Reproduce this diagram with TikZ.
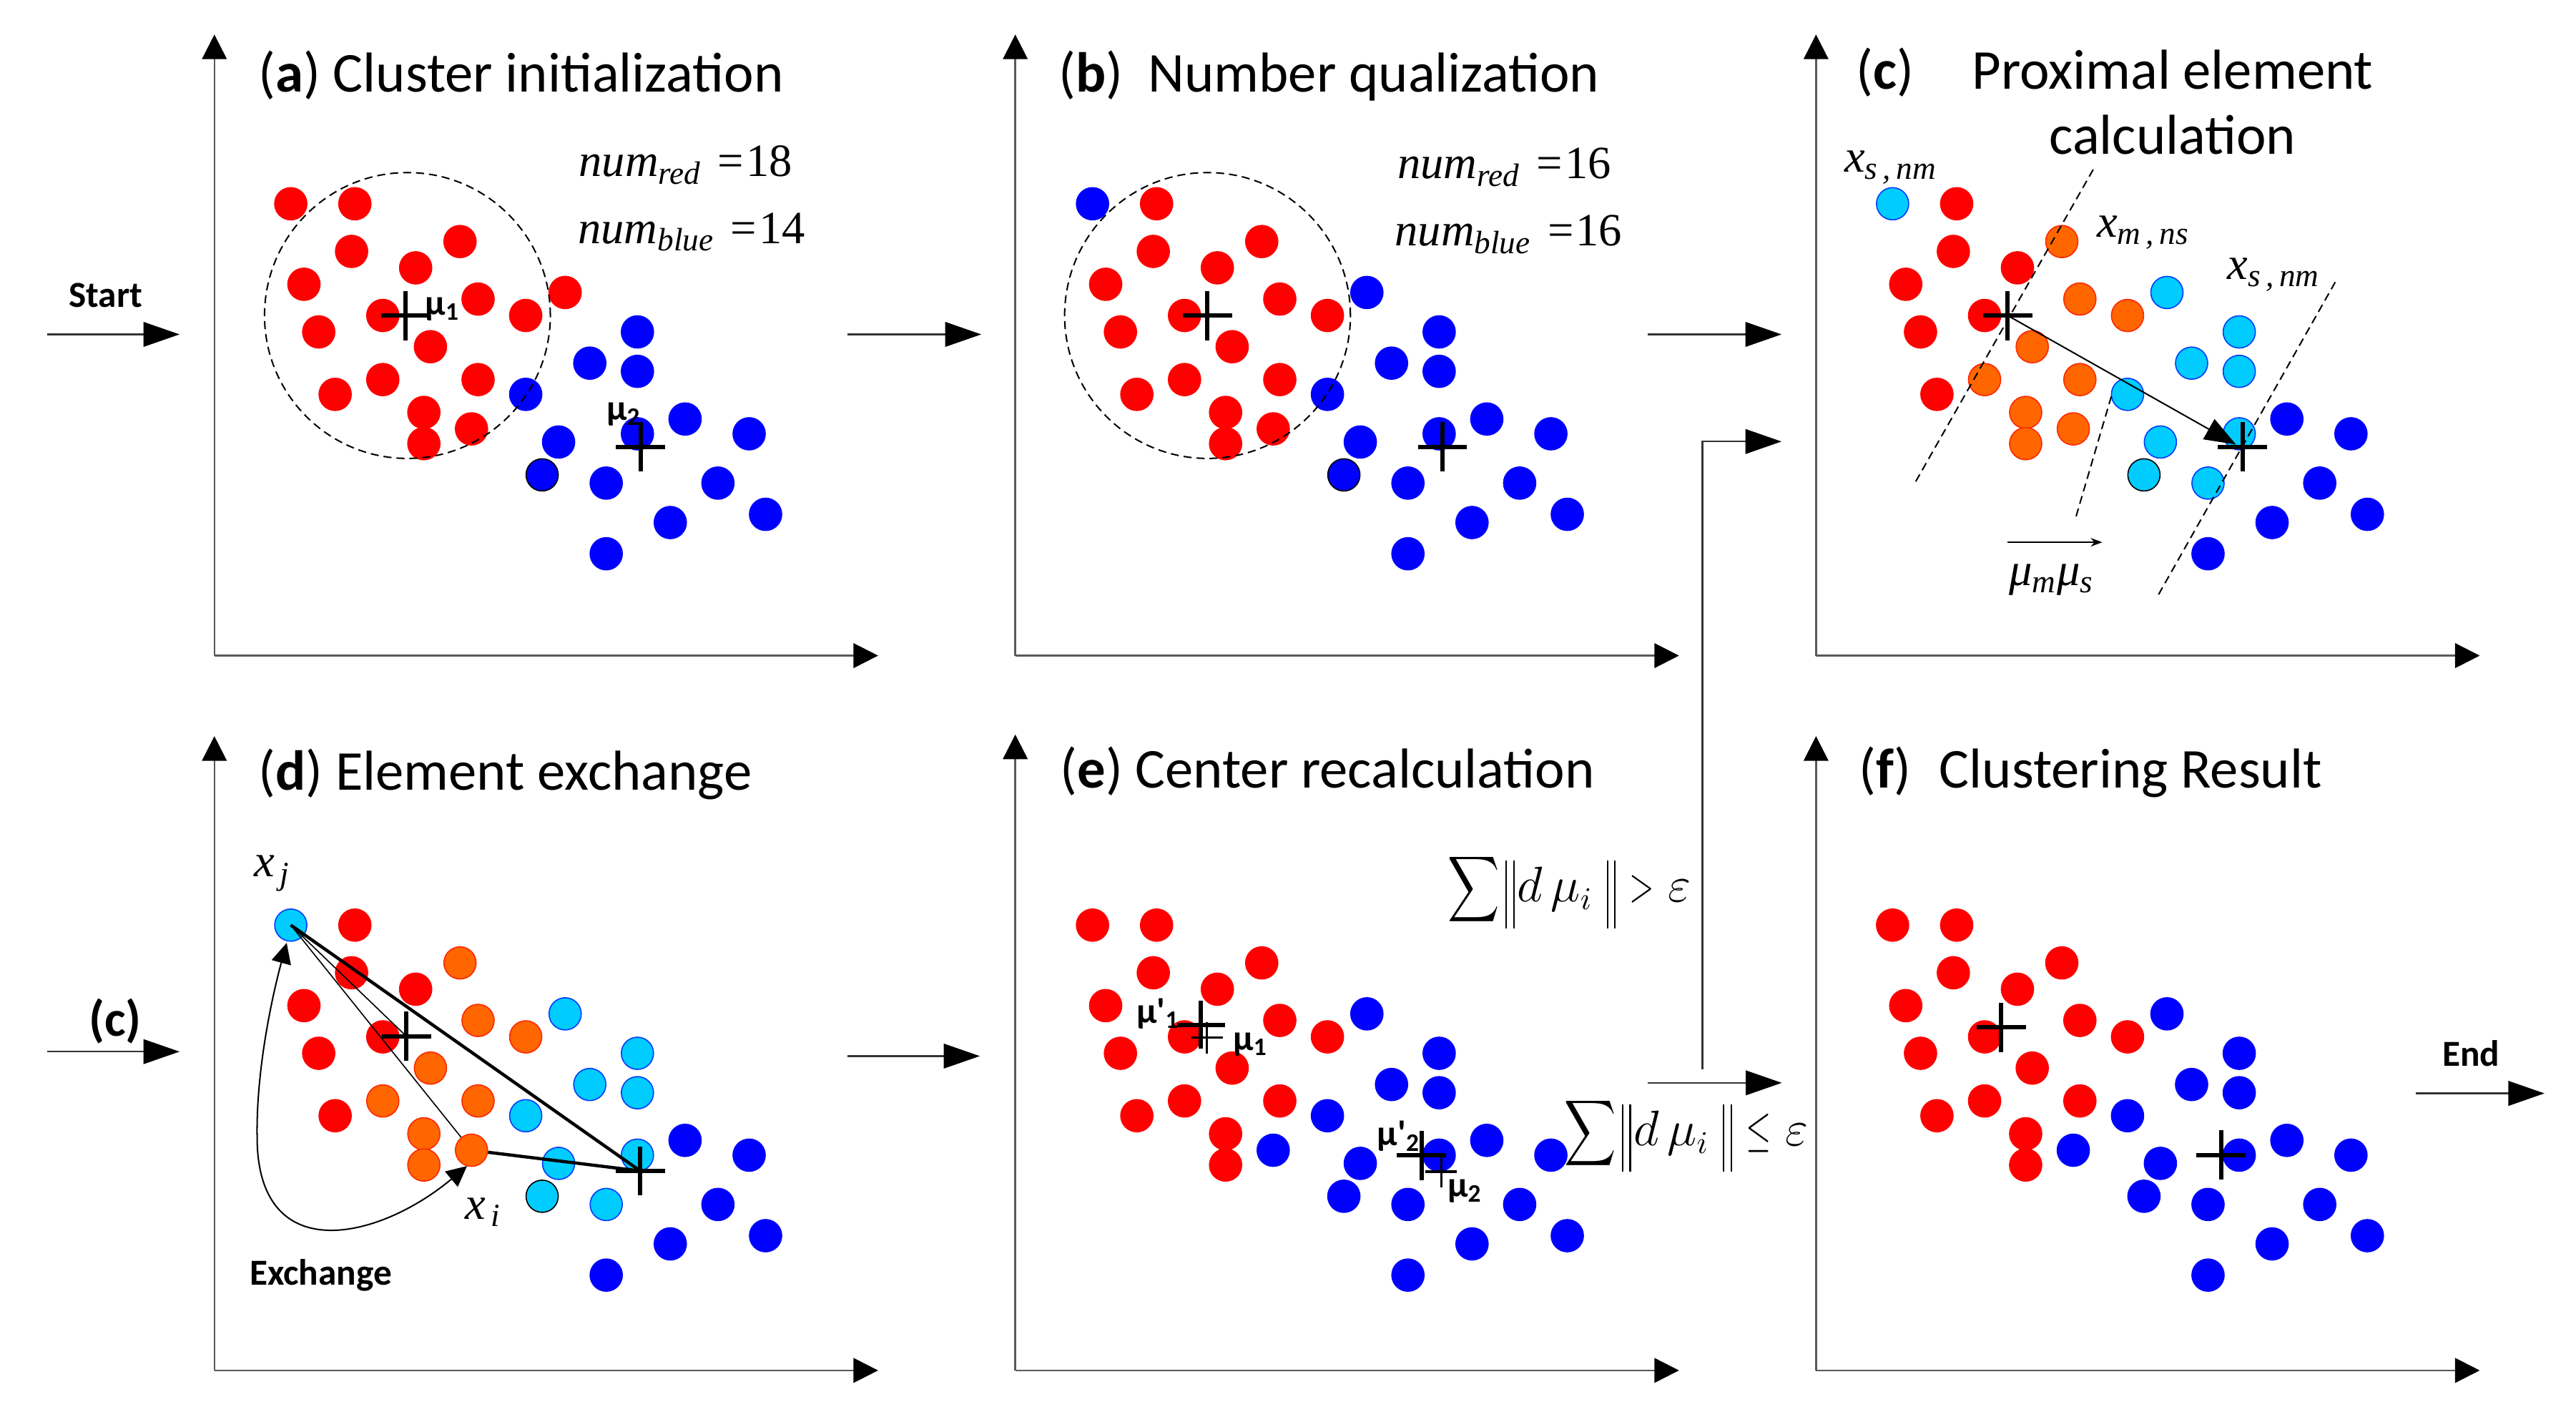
\documentclass[tikz,border=0pt]{standalone}
\usepackage{amsmath}
\usepackage{fontspec}
\setmainfont{Carlito}
\newfontfamily\tms{Liberation Serif}
\usetikzlibrary{arrows.meta,calc}
\definecolor{Frd}{RGB}{255,0,0}\definecolor{Ord}{RGB}{255,0,0}
\definecolor{Fbd}{RGB}{0,0,255}\definecolor{Obd}{RGB}{0,0,255}
\definecolor{Fbk}{RGB}{0,0,255}\definecolor{Obk}{RGB}{0,0,0}
\definecolor{For}{RGB}{255,102,0}\definecolor{Oor}{RGB}{255,40,0}
\definecolor{Fcy}{RGB}{0,204,255}\definecolor{Ocy}{RGB}{0,60,255}
\definecolor{Fck}{RGB}{0,204,255}\definecolor{Ock}{RGB}{0,0,0}
\tikzset{
 dot/.style={circle, inner sep=0pt, minimum size=0.392cm, line width=0.4pt},
 axis/.style={draw=black!65, line width=0.6pt, -{Triangle[length=0.3cm,width=0.3cm,color=black]}},
 flow/.style={draw=black!80, line width=0.6pt, -{Triangle[length=0.44cm,width=0.3cm,color=black]}},
 crs/.style={line width=1.5pt},
 crsold/.style={line width=0.8pt},
 ttl/.style={anchor=base west, inner sep=0pt, font=\fontsize{19.5}{23}\selectfont},
 lbl/.style={anchor=base west, inner sep=0pt, font=\fontsize{12.7}{15}\selectfont\bfseries},
 mul/.style={anchor=base west, inner sep=0pt, font=\fontsize{12.5}{15}\selectfont\bfseries},
 mth/.style={anchor=base west, inner sep=0pt, font=\fontsize{16}{19}\selectfont\tms},
 frm/.style={anchor=base west, inner sep=0pt, font=\fontsize{16}{19}\selectfont},
 dsh/.style={line width=0.5pt, dash pattern=on 2.8pt off 1.7pt},
 dcirc/.style={circle, draw, dsh, inner sep=0pt, minimum size=3.48cm},
}
\newcommand\nb{\rule[-0.57em]{0.5pt}{1.46em}\hspace{2.2pt}\rule[-0.57em]{0.5pt}{1.46em}}
\newcommand\bigsum{\vcenter{\hbox{\scalebox{0.72}[0.92]{$\displaystyle\sum$}}}}
\newcommand\nrel[1]{\mathrel{\scalebox{0.65}[1]{$#1$}}}
\newcommand\dotset[4]{%
 \foreach \px/\py/\ca/\cb/\cc/\ce [count=\i] in {
  177/124/rd/bd/cy/rd, 216/124/rd/rd/rd/rd, 214/153/rd/rd/rd/rd, 280/147/rd/rd/or/rd,
  253/163/rd/rd/rd/rd, 185/173/rd/rd/rd/rd, 291/182/rd/rd/or/rd, 344/178/rd/bd/cy/bd,
  194/202/rd/rd/rd/rd, 233/192/rd/rd/rd/rd, 320/192/rd/rd/or/rd, 262/211/rd/rd/or/rd,
  233/231/rd/rd/or/rd, 291/231/rd/rd/or/rd, 204/240/rd/rd/rd/rd, 258/251/rd/rd/or/rd,
  287/261/rd/rd/or/bd, 258/270/rd/rd/or/rd,
  388/202/bd/bd/cy/bd, 359/221/bd/bd/cy/bd, 388/226/bd/bd/cy/bd, 320/240/bd/bd/cy/bd,
  417/255/bd/bd/bd/bd, 388/264/bd/bd/cy/bd, 456/264/bd/bd/bd/bd, 340/269/bd/bd/cy/bd,
  330/289/bk/bk/ck/bd, 369/294/bd/bd/cy/bd, 437/294/bd/bd/bd/bd, 466/313/bd/bd/bd/bd,
  408/318/bd/bd/bd/bd, 369/337/bd/bd/bd/bd}{
   \ifcase#4\or\edef\cl{\ca}\or\edef\cl{\cb}\or\edef\cl{\cc}\or\edef\cl{\ce}\fi
   \node[dot, fill=F\cl, draw=O\cl] (#1\i) at (\px+#2,\py+#3) {};
 }}
\newcommand\crossat[3]{\draw[#1] ($(#2)+(-#3,0)$) -- ($(#2)+(#3,0)$) ($(#2)+(0,-#3)$) -- ($(#2)+(0,#3)$);}
\begin{document}
\begin{tikzpicture}[x=0.02cm,y=-0.02cm]
\useasboundingbox (0,0) rectangle (1568,862);
% axes
\foreach \n/\ox/\oy/\ty in {a/130.5/399/21, b/618/399/21, c/1105.4/399/21, d/130.5/834/448, e/618/834/447, f/1105.4/834/448}{
 \coordinate (\n o) at (\ox,\oy);
 \coordinate (\n y) at (\ox,\ty);
 \coordinate (\n x) at (\ox+404,\oy);
 \draw[axis] (\n o) -- (\n y);
 \draw[axis] (\n o) -- (\n x);
}
% dots
\dotset{a}{0}{0}{1}
\dotset{b}{488}{0}{2}
\dotset{c}{975}{0}{3}
\dotset{d}{0}{439}{3}
\dotset{e}{488}{439}{4}
\dotset{f}{975}{439}{4}
% dashed circles
\node[dcirc] (acirc) at (248,192) {};
\node[dcirc] (bcirc) at (735,192) {};
% cross positions
\coordinate (amu1) at (247,192); \coordinate (amu2) at (390,272);
\coordinate (bmu1) at (735,192); \coordinate (bmu2) at (878,272);
\coordinate (cmu1) at (1222,192); \coordinate (cmu2) at (1365,272);
\coordinate (dmu1) at (247.4,630.7); \coordinate (dmu2) at (389.7,712.6);
\coordinate (emu1) at (734.7,631.5); \coordinate (emu2) at (877.2,713);
\coordinate (enu1) at (731,623.7); \coordinate (enu2) at (865.2,703.1);
\coordinate (fmu1) at (1218.1,625.2); \coordinate (fmu2) at (1351.9,702.9);
\foreach \p in {amu1,amu2,bmu1,bmu2,cmu1,cmu2,dmu1,dmu2,fmu1,fmu2}{\crossat{crs}{\p}{15}}
\crossat{crs}{enu1}{14.5}
\crossat{crs}{enu2}{15}
\crossat{crsold}{emu1}{9.5}
\crossat{crsold}{emu2}{9.7}
% panel c dashed lines and vector
\coordinate (cl1a) at (1166.1,293); \coordinate (cl1b) at (1274.2,103);
\coordinate (cl2a) at (1263.7,314.2); \coordinate (cl2b) at (1285.5,240);
\coordinate (cl3a) at (1313.9,361.8); \coordinate (cl3b) at (1421.6,171.4);
\draw[dsh] (cl1a) -- (cl1b);
\draw[dsh] (cl2a) -- (cl2b);
\draw[dsh] (cl3a) -- (cl3b);
\coordinate (ctip) at (1361,270.5);
\draw[line width=0.5pt, -{Triangle[length=0.38cm,width=0.28cm]}] (cmu1) -- (ctip);
\coordinate (cv1) at (1221.8,330); \coordinate (cv2) at (1279.6,330);
\draw[line width=0.5pt, -{Stealth[length=4pt,width=3pt]}] (cv1) -- (cv2);
% panel d lines
\draw[line width=0.4pt] (d1.center) -- (d17);
\draw[line width=0.4pt] (d1.center) -- (dmu1);
\draw[line width=1.1pt] (d1.center) -- (dmu2);
\draw[line width=1.1pt] (d17) -- (dmu2);
\coordinate (ex1) at (284.3,709.6); \coordinate (ex2) at (174.5,573.8);
\draw[line width=0.5pt, {Triangle[length=0.25cm,width=0.24cm]}-{Triangle[length=0.25cm,width=0.24cm]}]
  (ex1) .. controls (230,755) and (156,772) .. (156.5,691) .. controls (156,650) and (166,605) .. (ex2);
% flow connectors
\coordinate (s0) at (28.8,203.5); \coordinate (s1) at (109.3,203.5);
\coordinate (ab0) at (516,203.5); \coordinate (ab1) at (597.3,203.5);
\coordinate (bc0) at (1003,203.5); \coordinate (bc1) at (1084.4,203.5);
\coordinate (cc0) at (28.8,640); \coordinate (cc1) at (109.3,640);
\coordinate (de0) at (516,642.7); \coordinate (de1) at (596.4,642.7);
\coordinate (ef0) at (1003,659); \coordinate (ef1) at (1084.6,659);
\coordinate (fe0) at (1470.4,665.4); \coordinate (fe1) at (1548.8,665.4);
\coordinate (lp0) at (1036.2,650.7); \coordinate (lp1) at (1036.2,268.7); \coordinate (lp2) at (1084.4,268.7);
\draw[flow] (s0) -- (s1);
\draw[flow] (ab0) -- (ab1);
\draw[flow] (bc0) -- (bc1);
\draw[flow] (cc0) -- (cc1);
\draw[flow] (de0) -- (de1);
\draw[flow] (ef0) -- (ef1);
\draw[flow] (fe0) -- (fe1);
\draw[flow] (lp0) -- (lp1) -- (lp2);
% titles
\node[ttl] (ta) at (157,55.8) {({\bfseries a}) Cluster initialization};
\node[ttl] (tb) at (644,55.8) {({\bfseries b})\hspace{0.45em}Number qualization};
\node[ttl] (tc1) at (1129.6,54.4) {({\bfseries c})};
\node[ttl] (tc2) at (1200,54.4) {Proximal element};
\node[ttl] (tc3) at (1247,93.8) {calculation};
\node[ttl] (td) at (157,480.8) {({\bfseries d}) Element exchange};
\node[ttl] (te) at (645,479.4) {({\bfseries e}) Center recalculation};
\node[ttl] (tf) at (1131.4,479.4) {({\bfseries f})\hspace{0.5em}Clustering Result};
% labels
\node[lbl] (lstart) at (41.6,187.1) {Start};
\node[lbl] (lend) at (1486.3,648.8) {End};
\node[lbl, font=\fontsize{17.5}{20}\selectfont\bfseries] (lc) at (53.8,630.7) {(c)};
\node[lbl] (lex) at (151.6,782.1) {Exchange};
\node[mul] (amu1l) at (258.5,191.8) {μ\textsubscript{1}};
\node[mul] (amu2l) at (368.9,255.7) {μ\textsubscript{2}};
\node[mul] (enu1l) at (691.5,622.6) {μ\textquotesingle\textsubscript{1}};
\node[mul] (emu1l) at (750.3,639.2) {μ\textsubscript{1}};
\node[mul] (enu2l) at (838,697.3) {μ\textquotesingle\textsubscript{2}};
\node[mul] (emu2l) at (880.8,728.5) {μ\textsubscript{2}};
% math labels
\node[mth] (anr) at (352,107.4) {\itshape num\textsubscript{red}\hspace{0.35em}\upshape=\hspace{0.05em}18};
\node[mth] (anb) at (351.5,148.2) {\itshape num\textsubscript{blue}\hspace{0.35em}\upshape=\hspace{0.05em}14};
\node[mth] (bnr) at (850.4,108.8) {\itshape num\textsubscript{red}\hspace{0.35em}\upshape=\hspace{0.05em}16};
\node[mth] (bnb) at (848.7,149.6) {\itshape num\textsubscript{blue}\hspace{0.35em}\upshape=\hspace{0.05em}16};
\node[mth] (cx1) at (1122.4,104.7) {\itshape x\textsubscript{s\,,\,nm}};
\node[mth] (cx2) at (1276,144.2) {\itshape x\textsubscript{m\,,\,ns}};
\node[mth] (cx3) at (1355.5,170) {\itshape x\textsubscript{s\,,\,nm}};
\node[mth] (cmm) at (1222.5,356.3) {\itshape μ\textsubscript{m}μ\textsubscript{s}};
\node[mth] (dxj) at (154.4,533.5) {\itshape x\textsubscript{\,j}};
\node[mth] (dxi) at (282.8,741.8) {\itshape x\textsubscript{\,i}};
\node[frm] (cgt) at (881,548.9) {$\bigsum\mkern2mu\nb\mkern1mu d\,\mu_{i}\mkern5mu\nb\nrel{>}\varepsilon$};
\node[frm] (cle) at (951.8,697.2) {$\bigsum\mkern2mu\nb\mkern1mu d\,\mu_{i}\mkern5mu\nb\nrel{\le}\varepsilon$};
\end{tikzpicture}
\end{document}
